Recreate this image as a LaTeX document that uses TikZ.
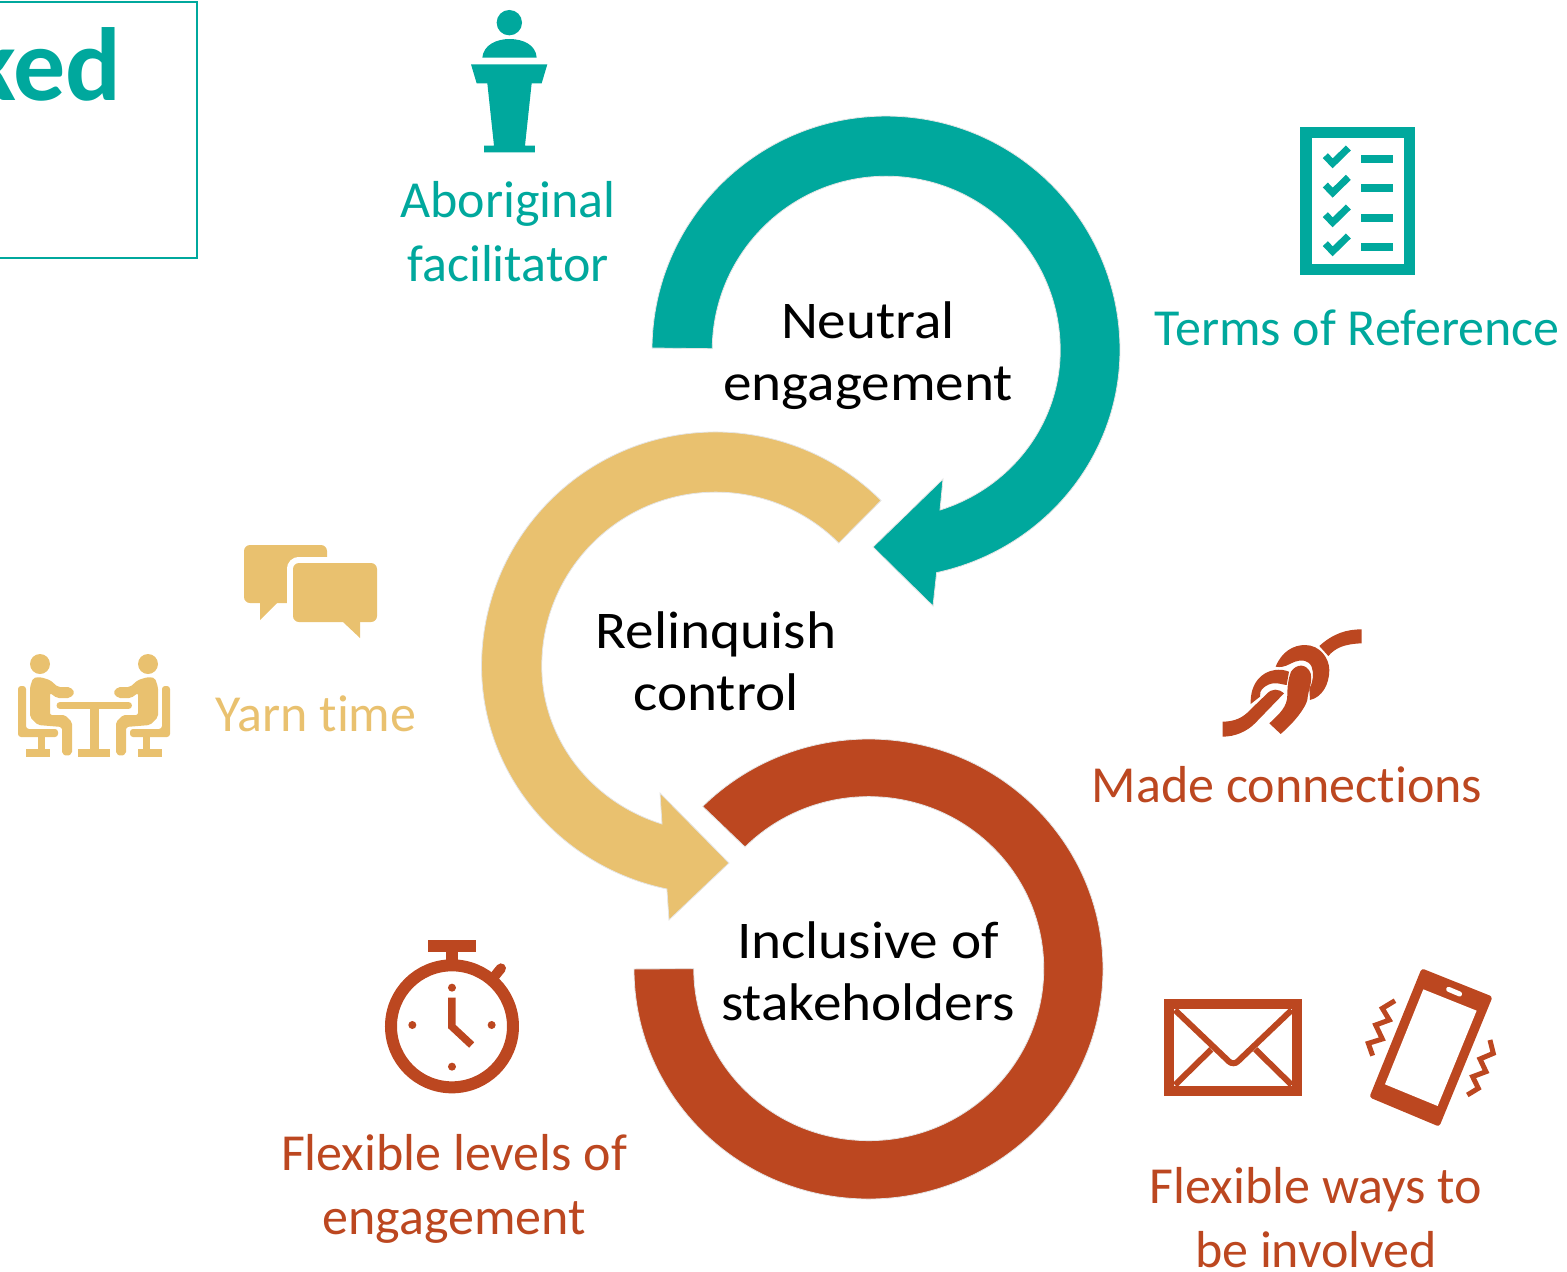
\documentclass[tikz,border=0pt]{standalone}
\usepackage{fontspec}
\setmainfont[Ligatures=NoCommon]{Carlito}
\newfontfamily\stagefont[FakeStretch=1.08,Ligatures=NoCommon]{Carlito}
\definecolor{tealc}{RGB}{0,168,157}
\definecolor{sandc}{RGB}{233,193,111}
\definecolor{rustc}{RGB}{188,71,32}
\tikzset{
  swoosh/.style={draw=black!10,line width=0.8pt,line join=miter},
  lbl/.style={align=center,inner sep=0pt,font=\fontsize{52}{64}\selectfont},
  stagelbl/.style={align=center,inner sep=0pt,text=black,font=\stagefont\fontsize{53}{62}\selectfont},
}
\newcommand{\sitter}{
\fill[rounded corners=2pt] (30,687) -- (33,678) -- (40,677) -- (50,680) -- (58,687) -- (70,687) -- (75,692.5) -- (70,698) -- (57,698) -- (50,693) -- (50,715) -- (65,715) -- (72,722) -- (72,754) -- (67,756) -- (62,754) -- (62,727) -- (38,725) -- (30,717) -- cycle;
\fill (40,664) circle (10pt);
\fill[rounded corners=3pt] (18,686) -- (26,686) -- (26,729) -- (58,729) -- (58,737) -- (18,737) -- cycle;
\fill (38,737) rectangle (45,749);
\fill (26,749) rectangle (50,757);
}
\begin{document}
\begin{tikzpicture}[x=1pt,y=-1pt]
\useasboundingbox (0,0) rectangle (1567,1272);

\draw[tealc,line width=2pt] (-10,2) -- (197,2) -- (197,258) -- (-10,258);
\node[anchor=base east,inner sep=0pt,text=tealc,font=\fontsize{104}{104}\selectfont\bfseries] (cornerword) at (122,100) {ked};

\filldraw[swoosh,fill=tealc] (652,348) arc[start angle=179.5,end angle=0,radius=234pt] arc[start angle=0,end angle=-77.5,x radius=234pt,y radius=228pt] -- (933,606) -- (873,547) -- (943,479) -- (940,510) arc[start angle=-72,end angle=0,x radius=174pt,y radius=168pt] arc[start angle=0,end angle=179.5,radius=174pt] -- cycle;
\filldraw[swoosh,fill=sandc] (881,500.5) arc[start angle=45,end angle=180,radius=234pt] arc[start angle=180,end angle=258,x radius=234pt,y radius=228pt] -- (669,920) -- (729,863) -- (660,793) -- (662,824) arc[start angle=252,end angle=180,x radius=174pt,y radius=166pt] arc[start angle=180,end angle=45,radius=174pt] -- cycle;
\filldraw[swoosh,fill=rustc] (634,969) arc[start angle=180,end angle=495,x radius=234.5pt,y radius=230pt] -- (745,847) arc[start angle=135,end angle=-180,x radius=175pt,y radius=172pt] -- cycle;

\node[stagelbl] (neutral) at (868,356) {Neutral\\engagement};
\node[stagelbl] (relinquish) at (716,661) {Relinquish\\control};
\node[stagelbl] (inclusive) at (868,971) {Inclusive of\\stakeholders};

\node[lbl,text=tealc] (aboriginal) at (508,232) {Aboriginal\\facilitator};
\node[lbl,text=tealc] (terms) at (1357,328) {Terms of Reference};
\node[lbl,text=sandc] (yarn) at (316,714) {Yarn time};
\node[lbl,text=rustc] (connections) at (1287,785) {Made connections};
\node[lbl,text=rustc] (levels) at (454,1189) {Flexible levels of\\engagement};
\node[lbl,text=rustc] (ways) at (1316,1218) {Flexible ways to\\be involved};

% podium
\begin{scope}[shift={(460,0)},x=0.3333pt,y=-0.3333pt,tealc]
\fill (148,68) circle (12.7pt);
\fill (67,173) .. controls (70,135) and (110,117) .. (148,117) .. controls (190,117) and (228,135) .. (230,173) -- cycle;
\fill (33,193) -- (262,193) -- (245,250) -- (215,250) -- (195,437) -- (225,437) -- (225,457) -- (72,457) -- (72,437) -- (102,437) -- (82,250) -- (50,250) -- cycle;
\end{scope}

% checklist
\begin{scope}[shift={(1290,120)},x=0.3333pt,y=-0.3333pt,tealc]
\draw[line width=11.3pt] (48,38.5) rectangle (358,448.5);
\foreach \ychk in {0,88,177,264}{
  \draw[line width=7pt] (106,107+\ychk) -- (128,130+\ychk) -- (175,84+\ychk);
  \fill (213,105+\ychk) rectangle (309,129+\ychk);
}
\end{scope}

% speech bubbles
\fill[sandc,rounded corners=6pt] (244,545) rectangle (327,603);
\fill[sandc] (260,600) -- (260,620) -- (277,603) -- (277,600) -- cycle;
\draw[white,line width=12pt,rounded corners=6pt,fill=white] (293,563) rectangle (377,622);
\fill[sandc,rounded corners=6pt] (293,563) rectangle (377,622);
\fill[sandc] (343,619) -- (343,622) -- (360,638) -- (360,619) -- cycle;

% table and sitters
\begin{scope}[sandc]
\sitter
\end{scope}
\begin{scope}[shift={(188,0)},xscale=-1,sandc]
\sitter
\end{scope}
\draw[sandc,line width=7pt,line cap=round] (60,705.5) -- (128.5,705.5);
\fill[sandc] (90,709) rectangle (99,750);
\fill[sandc] (78,749) rectangle (110,757);

% knot
\begin{scope}[shift={(1210,620)},x=0.3333pt,y=-0.3333pt,rustc]
\fill (195,150) .. controls (155,155) and (120,190) .. (122,252) -- (150,230) .. controls (145,210) and (170,192) .. (190,190) .. controls (205,188) and (222,195) .. (230,195) -- (237,155) .. controls (225,150) and (210,148) .. (195,150) -- cycle;
\fill (197,140) .. controls (215,95) and (250,75) .. (285,75) .. controls (330,75) and (358,115) .. (358,150) .. controls (358,195) and (335,232) .. (300,240) -- (298,205) .. controls (310,185) and (312,160) .. (305,140) .. controls (295,120) and (275,118) .. (255,125) .. controls (235,132) and (225,145) .. (197,140) -- cycle;
\fill (243,155) .. controls (260,130) and (290,130) .. (302,160) .. controls (308,190) and (295,205) .. (292,240) .. controls (285,265) and (255,305) .. (212,342) -- (178,310) .. controls (210,280) and (232,260) .. (232,225) .. controls (232,200) and (235,175) .. (243,155) -- cycle;
\fill (38,305) .. controls (75,305) and (100,292) .. (120,270) -- (170,222) .. controls (185,205) and (205,205) .. (222,220) -- (135,310) .. controls (110,335) and (75,350) .. (38,350) -- cycle;
\fill (455,28) -- (455,70) .. controls (400,72) and (375,85) .. (355,108) -- (328,78) .. controls (370,40) and (410,28) .. (455,28) -- cycle;
\end{scope}

% stopwatch
\begin{scope}[shift={(370,930)},x=0.3333pt,y=-0.3333pt,rustc]
\draw[line width=12pt] (246,289) circle (61pt);
\fill (175,30) rectangle (318,67);
\fill (228,67) rectangle (264,100);
\draw[line width=10pt,line cap=round] (368,146) -- (393,115);
\foreach \xdot/\ydot in {246/173,246/410,127/285,365/285}{
  \fill (\xdot,\ydot) circle (4pt);
}
\draw[line width=7.5pt] (246,203) -- (246,290) -- (305,345);
\end{scope}

% envelope
\begin{scope}[shift={(1150,960)},x=0.3333pt,y=-0.3333pt,rustc]
\draw[line width=10pt] (58,133) rectangle (442,393);
\draw[line width=6pt,rounded corners=6pt] (75,150) -- (250,317) -- (425,150);
\draw[line width=6pt] (75,375) -- (184,268);
\draw[line width=6pt] (425,375) -- (316,268);

% phone
\fill[rounded corners=3pt] (815,25) -- (1028,110) -- (868,500) -- (658,412) -- cycle;
\fill[white] (820,88) -- (980,152) -- (863,438) -- (705,373) -- cycle;
\draw[white,line width=5pt,line cap=round] (896,88) -- (929,102);
\draw[line width=5pt] (735,122) -- (697,145) -- (718,180) -- (677,195) -- (697,237) -- (655,250) -- (668,287);
\draw[line width=5pt] (1020,240) -- (1030,280) -- (990,297) -- (1008,335) -- (968,350) -- (985,385) -- (952,405);
\end{scope}
\end{tikzpicture}
\end{document}
